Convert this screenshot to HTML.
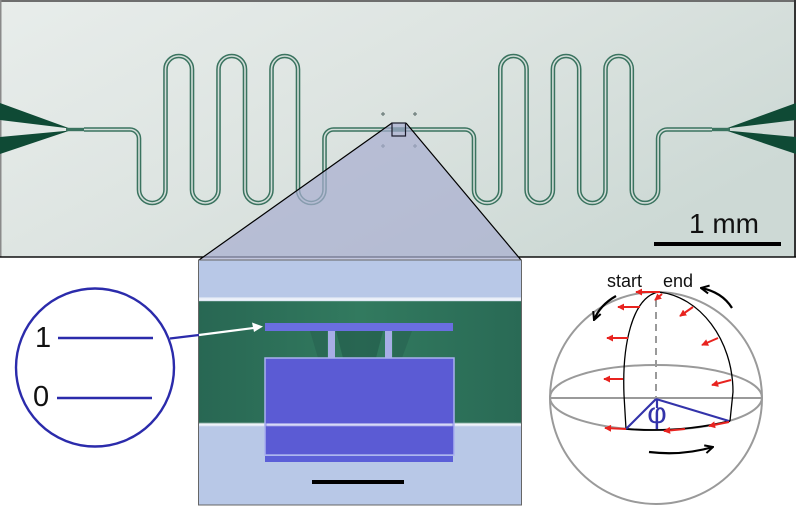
<!DOCTYPE html>
<html><head><meta charset="utf-8"><style>
html,body{margin:0;padding:0;background:#fff;}
svg{display:block;}
text{font-family:"Liberation Sans",sans-serif;}
</style></head><body>
<svg width="796" height="506" viewBox="0 0 796 506" xmlns="http://www.w3.org/2000/svg">
<defs>
<linearGradient id="bg" x1="0" y1="0" x2="1" y2="0.6">
<stop offset="0" stop-color="#e8edeb"/><stop offset="0.5" stop-color="#dde4e1"/><stop offset="1" stop-color="#cdd9d5"/>
</linearGradient>
<linearGradient id="grn" x1="0" y1="0" x2="1" y2="0">
<stop offset="0" stop-color="#286753"/><stop offset="0.5" stop-color="#327a5f"/><stop offset="1" stop-color="#296a55"/>
</linearGradient>
<marker id="rh" viewBox="0 0 8 8" refX="7" refY="4" markerWidth="7" markerHeight="7" markerUnits="userSpaceOnUse" orient="auto">
<path d="M0,0 L8,4 L0,8 Z" fill="#e8231f"/>
</marker>
<marker id="bh" viewBox="0 0 10 10" refX="9" refY="5" markerWidth="10" markerHeight="10" markerUnits="userSpaceOnUse" orient="auto">
<path d="M1,1 L9,5 L1,9" fill="none" stroke="#000" stroke-width="2"/>
</marker>
<filter id="bl"><feGaussianBlur stdDeviation="0.8"/></filter>
</defs>

<!-- top image -->
<rect x="0" y="0" width="796" height="257" fill="url(#bg)"/>
<rect x="0" y="0" width="796" height="2" fill="#6e6e6e"/>
<rect x="0" y="0" width="1.5" height="257" fill="#8a8a8a"/>
<rect x="794" y="0" width="2" height="257" fill="#333"/>

<!-- pads -->
<polygon points="0,103 0,120 70,128.5" fill="#0f4a35"/>
<polygon points="0,137 0,154 70,130.5" fill="#0f4a35"/>
<rect x="66" y="127.8" width="18" height="3.4" fill="#3a735f"/>
<polygon points="796,103 796,120 726,128.5" fill="#0f4a35"/>
<polygon points="796,137 796,154 726,130.5" fill="#0f4a35"/>
<rect x="712" y="127.8" width="18" height="3.4" fill="#3a735f"/>

<!-- meanders -->
<g fill="none" stroke-linejoin="round">
<path d="M84,129.5 H130 A9,9 0 0 1 139,138.5 V189.75 A13.25,13.25 0 0 0 165.5,189.75 V69.25 A13.25,13.25 0 0 1 192,69.25 V189.75 A13.25,13.25 0 0 0 218.5,189.75 V69.25 A13.25,13.25 0 0 1 245,69.25 V189.75 A13.25,13.25 0 0 0 271.5,189.75 V69.25 A13.25,13.25 0 0 1 298,69.25 V189.75 A13.25,13.25 0 0 0 324.5,189.75 V138.5 A9,9 0 0 1 333.5,129.5 H392" stroke="#3a735f" stroke-width="4.6"/>
<path d="M84,129.5 H130 A9,9 0 0 1 139,138.5 V189.75 A13.25,13.25 0 0 0 165.5,189.75 V69.25 A13.25,13.25 0 0 1 192,69.25 V189.75 A13.25,13.25 0 0 0 218.5,189.75 V69.25 A13.25,13.25 0 0 1 245,69.25 V189.75 A13.25,13.25 0 0 0 271.5,189.75 V69.25 A13.25,13.25 0 0 1 298,69.25 V189.75 A13.25,13.25 0 0 0 324.5,189.75 V138.5 A9,9 0 0 1 333.5,129.5 H392" stroke="#d3ddd9" stroke-width="1.6"/>
<path d="M406,129.5 H465 A9,9 0 0 1 474,138.5 V189.85 A13.15,13.15 0 0 0 500.3,189.85 V69.15 A13.15,13.15 0 0 1 526.6,69.15 V189.85 A13.15,13.15 0 0 0 552.9,189.85 V69.15 A13.15,13.15 0 0 1 579.2,69.15 V189.85 A13.15,13.15 0 0 0 605.5,189.85 V69.15 A13.15,13.15 0 0 1 631.8,69.15 V189.85 A13.15,13.15 0 0 0 658.1,189.85 V138.5 A9,9 0 0 1 667.1,129.5 H712" stroke="#3a735f" stroke-width="4.6"/>
<path d="M406,129.5 H465 A9,9 0 0 1 474,138.5 V189.85 A13.15,13.15 0 0 0 500.3,189.85 V69.15 A13.15,13.15 0 0 1 526.6,69.15 V189.85 A13.15,13.15 0 0 0 552.9,189.85 V69.15 A13.15,13.15 0 0 1 579.2,69.15 V189.85 A13.15,13.15 0 0 0 605.5,189.85 V69.15 A13.15,13.15 0 0 1 631.8,69.15 V189.85 A13.15,13.15 0 0 0 658.1,189.85 V138.5 A9,9 0 0 1 667.1,129.5 H712" stroke="#d3ddd9" stroke-width="1.6"/>
<path d="M392,129.5 H406" stroke="#3a735f" stroke-width="4.6"/>
</g>

<!-- alignment marks -->
<g stroke="#6a7a78" stroke-width="1.2">
<path d="M381,114 h4 M383,112 v4"/><path d="M413,114 h4 M415,112 v4"/>
<path d="M381,146 h4 M383,144 v4"/><path d="M413,146 h4 M415,144 v4"/>
</g>

<!-- scale bar top -->
<text x="689" y="233" font-size="28" fill="#111">1 mm</text>
<rect x="654" y="242" width="127" height="4" fill="#000"/>

<!-- bottom black line of top image -->
<rect x="0" y="256.3" width="796" height="1.4" fill="#000"/>

<!-- zoom triangle -->
<polygon points="392,123 406,123 521,260 199,260" fill="#a8aed0" fill-opacity="0.7"/>
<path d="M392,123 L199,260 M406,123 L521,260" stroke="#000" stroke-width="1.2" fill="none"/>
<rect x="392" y="123" width="13.5" height="13" fill="none" stroke="#1a1a2a" stroke-width="1.2"/>

<!-- micrograph -->
<g>
<rect x="198.5" y="260" width="323" height="245" fill="#b8c8e7"/>
<rect x="198.5" y="301" width="323" height="123" fill="url(#grn)"/>
<rect x="198.5" y="297.5" width="323" height="3.5" fill="#eef3fa" filter="url(#bl)"/>
<rect x="198.5" y="423" width="323" height="3" fill="#f2f5fb" filter="url(#bl)"/>
<polygon points="336,331 383,331 376,358 343,358" fill="#22584a" opacity="0.6"/>
<polygon points="310,331 327,331 327,358 318,358" fill="#22584a" opacity="0.4"/>
<polygon points="393,331 412,331 402,358 393,358" fill="#22584a" opacity="0.4"/>
<rect x="265" y="323" width="188" height="8" fill="#6a6ee0"/>
<rect x="328" y="331" width="7" height="29" fill="#a7aee6"/>
<rect x="385" y="331" width="7" height="29" fill="#a7aee6"/>
<rect x="265" y="358" width="189" height="97" fill="#5b5bd4" stroke="#a9b1ef" stroke-width="1.5"/>
<rect x="266" y="423.5" width="187" height="2.5" fill="#e6e9fb" filter="url(#bl)"/>
<rect x="265" y="456" width="188" height="6" fill="#5b5fd8"/>
<rect x="312" y="480" width="92" height="4" fill="#000"/>
<rect x="198.5" y="260" width="323" height="245" fill="none" stroke="#666" stroke-width="1"/>
</g>

<!-- arrow to device -->
<line x1="170" y1="338.5" x2="199" y2="335" stroke="#2b2bab" stroke-width="2.2"/>
<line x1="199" y1="335" x2="255" y2="327.8" stroke="#fff" stroke-width="2.2"/>
<polygon points="263,326.5 252,322.5 254,332" fill="#fff"/>

<!-- energy level circle -->
<circle cx="95" cy="367.5" r="79" fill="#fff" stroke="#2b2bab" stroke-width="2.4"/>
<line x1="58" y1="338" x2="153" y2="338" stroke="#2b2bab" stroke-width="2.4"/>
<line x1="57" y1="398" x2="152" y2="398" stroke="#2b2bab" stroke-width="2.4"/>
<text x="35" y="347" font-size="29" fill="#111">1</text>
<text x="33" y="406" font-size="29" fill="#111">0</text>

<!-- Bloch sphere -->
<g fill="none" stroke="#9a9a9a" stroke-width="2">
<circle cx="656" cy="398" r="106"/>
<ellipse cx="656" cy="397.5" rx="106" ry="32.5"/>
<line x1="550" y1="398" x2="762" y2="398"/>
<line x1="656" y1="300" x2="656" y2="397" stroke-dasharray="7 5"/>
</g>
<g fill="none" stroke="#000" stroke-width="1.3">
<path d="M658,292 C632,298 622,345 624,395 L626,429"/>
<path d="M658,292 C700,296 733,340 733,392 L730,421"/>
<path d="M626,429 Q680,433 730,421" stroke-width="1.8"/>
</g>
<g stroke="#3333aa" stroke-width="2.2" fill="none">
<line x1="656" y1="399" x2="626" y2="429"/>
<line x1="656" y1="399" x2="729" y2="421"/>
<line x1="657" y1="399" x2="657" y2="408"/>
</g>
<text x="657" y="423" font-size="30" fill="#3333aa" text-anchor="middle">φ</text>

<!-- red arrows -->
<g stroke="#e8231f" stroke-width="2" fill="none" marker-end="url(#rh)">
<line x1="660" y1="292" x2="636" y2="292"/>
<line x1="662" y1="294" x2="655" y2="300"/>
<line x1="640" y1="307" x2="618" y2="307"/>
<line x1="693" y1="307" x2="680" y2="316"/>
<line x1="628" y1="338" x2="607" y2="338"/>
<line x1="718" y1="338" x2="702" y2="345"/>
<line x1="623" y1="379" x2="604" y2="379"/>
<line x1="731" y1="380" x2="712" y2="385"/>
<line x1="626" y1="429" x2="605" y2="428"/>
<line x1="685" y1="429" x2="664" y2="431"/>
<line x1="729" y1="422" x2="709" y2="426"/>
</g>

<!-- black motion arrows -->
<g stroke="#000" stroke-width="2.2" fill="none" marker-end="url(#bh)">
<path d="M616,296 Q600,305 594,320"/>
<path d="M732,308 Q722,292 701,288"/>
<path d="M649,452 Q682,456 713,447"/>
</g>
<text x="607" y="287" font-size="18" fill="#111">start</text>
<text x="663" y="287" font-size="18" fill="#111">end</text>
</svg>
</body></html>
